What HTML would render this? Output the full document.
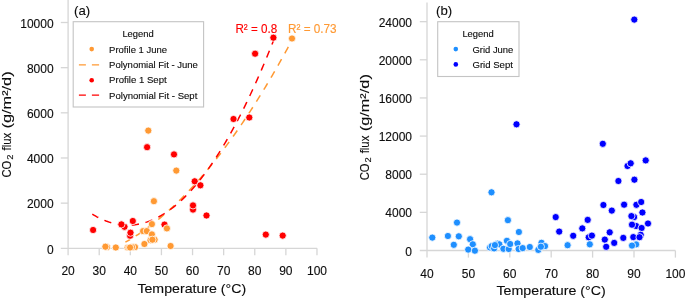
<!DOCTYPE html>
<html><head><meta charset="utf-8"><title>CO2 flux vs temperature</title>
<style>
html,body{margin:0;padding:0;background:#fff;}
body{width:685px;height:299px;overflow:hidden;}
svg{display:block;will-change:transform;}
svg text{font-family:"Liberation Sans",sans-serif;}
</style></head><body>
<svg width="685" height="299" viewBox="0 0 685 299">
<rect width="685" height="299" fill="#fff"/>
<g stroke="#d6d6d6" stroke-width="1.3" fill="none">
<path d="M68.1 0V255.2"/>
<path d="M60.8 248.3H316.98"/>
<path d="M60.8 203.14H68.1"/>
<path d="M60.8 157.98H68.1"/>
<path d="M60.8 112.82H68.1"/>
<path d="M60.8 67.66H68.1"/>
<path d="M60.8 22.50H68.1"/>
<path d="M99.21 248.3V255.2"/>
<path d="M130.32 248.3V255.2"/>
<path d="M161.43 248.3V255.2"/>
<path d="M192.54 248.3V255.2"/>
<path d="M223.65 248.3V255.2"/>
<path d="M254.76 248.3V255.2"/>
<path d="M285.87 248.3V255.2"/>
<path d="M316.98 248.3V255.2"/>
</g>
<text x="53.6" y="253.5" font-size="12" fill="#0d0d0d" stroke="#0d0d0d" stroke-width="0.12" text-anchor="end">0</text>
<text x="53.6" y="208.34" font-size="12" fill="#0d0d0d" stroke="#0d0d0d" stroke-width="0.12" text-anchor="end">2000</text>
<text x="53.6" y="163.18" font-size="12" fill="#0d0d0d" stroke="#0d0d0d" stroke-width="0.12" text-anchor="end">4000</text>
<text x="53.6" y="118.02" font-size="12" fill="#0d0d0d" stroke="#0d0d0d" stroke-width="0.12" text-anchor="end">6000</text>
<text x="53.6" y="72.86" font-size="12" fill="#0d0d0d" stroke="#0d0d0d" stroke-width="0.12" text-anchor="end">8000</text>
<text x="53.6" y="27.7" font-size="12" fill="#0d0d0d" stroke="#0d0d0d" stroke-width="0.12" text-anchor="end">10000</text>
<text x="68.1" y="275.0" font-size="12" fill="#0d0d0d" stroke="#0d0d0d" stroke-width="0.12" text-anchor="middle">20</text>
<text x="99.21" y="275.0" font-size="12" fill="#0d0d0d" stroke="#0d0d0d" stroke-width="0.12" text-anchor="middle">30</text>
<text x="130.32" y="275.0" font-size="12" fill="#0d0d0d" stroke="#0d0d0d" stroke-width="0.12" text-anchor="middle">40</text>
<text x="161.43" y="275.0" font-size="12" fill="#0d0d0d" stroke="#0d0d0d" stroke-width="0.12" text-anchor="middle">50</text>
<text x="192.54" y="275.0" font-size="12" fill="#0d0d0d" stroke="#0d0d0d" stroke-width="0.12" text-anchor="middle">60</text>
<text x="223.65" y="275.0" font-size="12" fill="#0d0d0d" stroke="#0d0d0d" stroke-width="0.12" text-anchor="middle">70</text>
<text x="254.76" y="275.0" font-size="12" fill="#0d0d0d" stroke="#0d0d0d" stroke-width="0.12" text-anchor="middle">80</text>
<text x="285.87" y="275.0" font-size="12" fill="#0d0d0d" stroke="#0d0d0d" stroke-width="0.12" text-anchor="middle">90</text>
<text x="316.98" y="275.0" font-size="12" fill="#0d0d0d" stroke="#0d0d0d" stroke-width="0.12" text-anchor="middle">100</text>
<text x="137.4" y="293.4" font-size="13" fill="#0d0d0d" stroke="#0d0d0d" stroke-width="0.12" text-anchor="start" textLength="108.8" lengthAdjust="spacingAndGlyphs">Temperature (°C)</text>
<g transform="translate(11.4 176.9) rotate(-90)" font-size="13" fill="#0d0d0d" stroke="#0d0d0d" stroke-width="0.12">
<text x="-0.6" y="0" textLength="16.8" lengthAdjust="spacingAndGlyphs">CO</text>
<text x="17.1" y="1.9" font-size="8.2" textLength="5.2" lengthAdjust="spacingAndGlyphs">2</text>
<text x="26.4" y="0" textLength="17.6" lengthAdjust="spacingAndGlyphs">flux</text>
<text x="48.5" y="0" textLength="57.0" lengthAdjust="spacingAndGlyphs">(g/m²/d)</text>
</g>
<text x="74.1" y="14.7" font-size="13.2" fill="#0d0d0d" stroke="#0d0d0d" stroke-width="0.12" text-anchor="start">(a)</text>
<path d="M125.40 242.15 L126.80 241.36 L128.19 240.56 L129.59 239.74 L130.99 238.91 L132.38 238.06 L133.78 237.19 L135.18 236.31 L136.57 235.42 L137.97 234.51 L139.37 233.58 L140.76 232.64 L142.16 231.68 L143.56 230.71 L144.95 229.72 L146.35 228.72 L147.75 227.70 L149.14 226.67 L150.54 225.62 L151.94 224.56 L153.33 223.48 L154.73 222.38 L156.13 221.27 L157.52 220.15 L158.92 219.01 L160.32 217.85 L161.71 216.68 L163.11 215.50 L164.51 214.30 L165.90 213.08 L167.30 211.85 L168.70 210.60 L170.09 209.34 L171.49 208.06 L172.89 206.76 L174.28 205.46 L175.68 204.13 L177.08 202.79 L178.47 201.44 L179.87 200.07 L181.27 198.68 L182.66 197.28 L184.06 195.87 L185.46 194.44 L186.85 192.99 L188.25 191.53 L189.65 190.05 L191.04 188.56 L192.44 187.05 L193.84 185.53 L195.23 183.99 L196.63 182.44 L198.03 180.87 L199.42 179.28 L200.82 177.68 L202.22 176.07 L203.61 174.44 L205.01 172.79 L206.41 171.13 L207.80 169.46 L209.20 167.76 L210.59 166.06 L211.99 164.34 L213.39 162.60 L214.78 160.85 L216.18 159.08 L217.58 157.30 L218.97 155.50 L220.37 153.68 L221.77 151.85 L223.16 150.01 L224.56 148.15 L225.96 146.27 L227.35 144.38 L228.75 142.48 L230.15 140.56 L231.54 138.62 L232.94 136.67 L234.34 134.70 L235.73 132.72 L237.13 130.72 L238.53 128.71 L239.92 126.68 L241.32 124.64 L242.72 122.58 L244.11 120.51 L245.51 118.42 L246.91 116.31 L248.30 114.19 L249.70 112.06 L251.10 109.91 L252.49 107.74 L253.89 105.56 L255.29 103.36 L256.68 101.15 L258.08 98.92 L259.48 96.68 L260.87 94.42 L262.27 92.15 L263.67 89.86 L265.06 87.56 L266.46 85.24 L267.86 82.91 L269.25 80.56 L270.65 78.19 L272.05 75.81 L273.44 73.42 L274.84 71.01 L276.24 68.58 L277.63 66.14 L279.03 63.68 L280.43 61.21 L281.82 58.72 L283.22 56.22 L284.62 53.70 L286.01 51.17 L287.41 48.62 L288.81 46.06 L290.20 43.48 L291.60 40.88" fill="none" stroke="#ff9933" stroke-width="1.5" stroke-dasharray="7.3 6.7" stroke-dashoffset="1.98"/>
<path d="M92.30 214.13 L93.83 215.06 L95.35 215.94 L96.88 216.79 L98.41 217.59 L99.93 218.36 L101.46 219.08 L102.99 219.76 L104.52 220.40 L106.04 221.01 L107.57 221.57 L109.10 222.09 L110.62 222.57 L112.15 223.01 L113.68 223.41 L115.20 223.76 L116.73 224.08 L118.26 224.36 L119.78 224.60 L121.31 224.79 L122.84 224.95 L124.36 225.06 L125.89 225.13 L127.42 225.17 L128.95 225.16 L130.47 225.11 L132.00 225.02 L133.53 224.90 L135.05 224.73 L136.58 224.52 L138.11 224.26 L139.63 223.97 L141.16 223.64 L142.69 223.27 L144.21 222.86 L145.74 222.40 L147.27 221.91 L148.79 221.37 L150.32 220.80 L151.85 220.18 L153.38 219.52 L154.90 218.83 L156.43 218.09 L157.96 217.31 L159.48 216.49 L161.01 215.63 L162.54 214.73 L164.06 213.79 L165.59 212.81 L167.12 211.79 L168.64 210.72 L170.17 209.62 L171.70 208.48 L173.23 207.29 L174.75 206.07 L176.28 204.80 L177.81 203.49 L179.33 202.15 L180.86 200.76 L182.39 199.33 L183.91 197.86 L185.44 196.35 L186.97 194.80 L188.49 193.21 L190.02 191.58 L191.55 189.91 L193.07 188.20 L194.60 186.44 L196.13 184.65 L197.66 182.82 L199.18 180.94 L200.71 179.03 L202.24 177.07 L203.76 175.07 L205.29 173.04 L206.82 170.96 L208.34 168.84 L209.87 166.68 L211.40 164.48 L212.92 162.24 L214.45 159.96 L215.98 157.64 L217.51 155.28 L219.03 152.87 L220.56 150.43 L222.09 147.95 L223.61 145.42 L225.14 142.86 L226.67 140.25 L228.19 137.61 L229.72 134.92 L231.25 132.19 L232.77 129.42 L234.30 126.62 L235.83 123.77 L237.35 120.88 L238.88 117.95 L240.41 114.97 L241.94 111.96 L243.46 108.91 L244.99 105.82 L246.52 102.68 L248.04 99.51 L249.57 96.30 L251.10 93.04 L252.62 89.75 L254.15 86.41 L255.68 83.03 L257.20 79.61 L258.73 76.16 L260.26 72.66 L261.78 69.12 L263.31 65.54 L264.84 61.92 L266.37 58.26 L267.89 54.55 L269.42 50.81 L270.95 47.03 L272.47 43.21 L274.00 39.34" fill="none" stroke="#ff0000" stroke-width="1.5" stroke-dasharray="7.3 6.7" stroke-dashoffset="0.40"/>
<circle cx="93.1" cy="230" r="3.6" fill="#ff0000" stroke="#fff" stroke-width="0.8"/>
<circle cx="124.5" cy="226.8" r="3.6" fill="#ff0000" stroke="#fff" stroke-width="0.8"/>
<circle cx="121.4" cy="224.4" r="3.6" fill="#ff0000" stroke="#fff" stroke-width="0.8"/>
<circle cx="132.8" cy="221" r="3.6" fill="#ff0000" stroke="#fff" stroke-width="0.8"/>
<circle cx="130.1" cy="235.7" r="3.6" fill="#ff0000" stroke="#fff" stroke-width="0.8"/>
<circle cx="130.5" cy="232.7" r="3.6" fill="#ff0000" stroke="#fff" stroke-width="0.8"/>
<circle cx="164.5" cy="224.6" r="3.6" fill="#ff0000" stroke="#fff" stroke-width="0.8"/>
<circle cx="193" cy="209.6" r="3.6" fill="#ff0000" stroke="#fff" stroke-width="0.8"/>
<circle cx="193" cy="205.4" r="3.6" fill="#ff0000" stroke="#fff" stroke-width="0.8"/>
<circle cx="206.5" cy="215.5" r="3.6" fill="#ff0000" stroke="#fff" stroke-width="0.8"/>
<circle cx="194.7" cy="181.3" r="3.6" fill="#ff0000" stroke="#fff" stroke-width="0.8"/>
<circle cx="200.4" cy="185.3" r="3.6" fill="#ff0000" stroke="#fff" stroke-width="0.8"/>
<circle cx="147.1" cy="147.2" r="3.6" fill="#ff0000" stroke="#fff" stroke-width="0.8"/>
<circle cx="174" cy="154.4" r="3.6" fill="#ff0000" stroke="#fff" stroke-width="0.8"/>
<circle cx="233.5" cy="119.0" r="3.6" fill="#ff0000" stroke="#fff" stroke-width="0.8"/>
<circle cx="249.3" cy="117.5" r="3.6" fill="#ff0000" stroke="#fff" stroke-width="0.8"/>
<circle cx="255.1" cy="53.7" r="3.6" fill="#ff0000" stroke="#fff" stroke-width="0.8"/>
<circle cx="273.4" cy="37.7" r="3.6" fill="#ff0000" stroke="#fff" stroke-width="0.8"/>
<circle cx="265.8" cy="234.6" r="3.6" fill="#ff0000" stroke="#fff" stroke-width="0.8"/>
<circle cx="282.7" cy="235.6" r="3.6" fill="#ff0000" stroke="#fff" stroke-width="0.8"/>
<circle cx="107.0" cy="247.1" r="3.6" fill="#ff9933" stroke="#fff" stroke-width="0.8"/>
<circle cx="105.4" cy="246.7" r="3.6" fill="#ff9933" stroke="#fff" stroke-width="0.8"/>
<circle cx="115.8" cy="247.5" r="3.6" fill="#ff9933" stroke="#fff" stroke-width="0.8"/>
<circle cx="127.6" cy="247.5" r="3.6" fill="#ff9933" stroke="#fff" stroke-width="0.8"/>
<circle cx="129.0" cy="247.5" r="3.6" fill="#ff9933" stroke="#fff" stroke-width="0.8"/>
<circle cx="135.0" cy="247.1" r="3.6" fill="#ff9933" stroke="#fff" stroke-width="0.8"/>
<circle cx="132.0" cy="247.1" r="3.6" fill="#ff9933" stroke="#fff" stroke-width="0.8"/>
<circle cx="130.1" cy="247.5" r="3.6" fill="#ff9933" stroke="#fff" stroke-width="0.8"/>
<circle cx="144.4" cy="244.0" r="3.6" fill="#ff9933" stroke="#fff" stroke-width="0.8"/>
<circle cx="143.1" cy="231.1" r="3.6" fill="#ff9933" stroke="#fff" stroke-width="0.8"/>
<circle cx="146.8" cy="231.1" r="3.6" fill="#ff9933" stroke="#fff" stroke-width="0.8"/>
<circle cx="151.9" cy="224.1" r="3.6" fill="#ff9933" stroke="#fff" stroke-width="0.8"/>
<circle cx="151.9" cy="234.4" r="3.6" fill="#ff9933" stroke="#fff" stroke-width="0.8"/>
<circle cx="150.5" cy="240.2" r="3.6" fill="#ff9933" stroke="#fff" stroke-width="0.8"/>
<circle cx="154.6" cy="239.7" r="3.6" fill="#ff9933" stroke="#fff" stroke-width="0.8"/>
<circle cx="152.4" cy="239.7" r="3.6" fill="#ff9933" stroke="#fff" stroke-width="0.8"/>
<circle cx="153.9" cy="201.2" r="3.6" fill="#ff9933" stroke="#fff" stroke-width="0.8"/>
<circle cx="166.9" cy="228.4" r="3.6" fill="#ff9933" stroke="#fff" stroke-width="0.8"/>
<circle cx="170.6" cy="246" r="3.6" fill="#ff9933" stroke="#fff" stroke-width="0.8"/>
<circle cx="148.3" cy="130.6" r="3.6" fill="#ff9933" stroke="#fff" stroke-width="0.8"/>
<circle cx="176.3" cy="170.6" r="3.6" fill="#ff9933" stroke="#fff" stroke-width="0.8"/>
<circle cx="292" cy="38.5" r="3.6" fill="#ff9933" stroke="#fff" stroke-width="0.8"/>
<text x="235.4" y="32.7" font-size="12.2" fill="#ff0000" stroke="#ff0000" stroke-width="0.12" text-anchor="start" textLength="41.8" lengthAdjust="spacingAndGlyphs">R² = 0.8</text>
<text x="288.0" y="32.7" font-size="12.2" fill="#ff9933" stroke="#ff9933" stroke-width="0.12" text-anchor="start" textLength="48.6" lengthAdjust="spacingAndGlyphs">R² = 0.73</text>
<rect x="73.2" y="21.7" width="130.4" height="85.3" fill="#fff" stroke="#c4c4c4" stroke-width="1.1"/>
<text x="122.4" y="36.8" font-size="9" fill="#0d0d0d" stroke="#0d0d0d" stroke-width="0.12" text-anchor="start" textLength="31.3" lengthAdjust="spacingAndGlyphs">Legend</text>
<text x="109.1" y="52.5" font-size="9" fill="#0d0d0d" stroke="#0d0d0d" stroke-width="0.12" text-anchor="start" textLength="58.0" lengthAdjust="spacingAndGlyphs">Profile 1 June</text>
<text x="109.1" y="67.95" font-size="9" fill="#0d0d0d" stroke="#0d0d0d" stroke-width="0.12" text-anchor="start" textLength="88.8" lengthAdjust="spacingAndGlyphs">Polynomial Fit - June</text>
<text x="109.1" y="83.4" font-size="9" fill="#0d0d0d" stroke="#0d0d0d" stroke-width="0.12" text-anchor="start" textLength="57.6" lengthAdjust="spacingAndGlyphs">Profile 1 Sept</text>
<text x="109.1" y="98.85" font-size="9" fill="#0d0d0d" stroke="#0d0d0d" stroke-width="0.12" text-anchor="start" textLength="88.2" lengthAdjust="spacingAndGlyphs">Polynomial Fit - Sept</text>
<circle cx="91.7" cy="49.1" r="2.3" fill="#ff9933"/>
<circle cx="91.7" cy="80.2" r="2.3" fill="#ff0000"/>
<path d="M78.9 64.9H85.9M91.9 64.9H99.1" stroke="#ff9933" stroke-width="1.4"/>
<path d="M78.9 95.1H85.9M91.9 95.1H99.1" stroke="#ff0000" stroke-width="1.4"/>
<g stroke="#d6d6d6" stroke-width="1.3" fill="none">
<path d="M427.0 2.6V257.6"/>
<path d="M419.8 250.5H675.4"/>
<path d="M419.8 212.36H427.0"/>
<path d="M419.8 174.22H427.0"/>
<path d="M419.8 136.08H427.0"/>
<path d="M419.8 97.94H427.0"/>
<path d="M419.8 59.80H427.0"/>
<path d="M419.8 21.66H427.0"/>
<path d="M468.40 250.5V257.6"/>
<path d="M509.80 250.5V257.6"/>
<path d="M551.20 250.5V257.6"/>
<path d="M592.60 250.5V257.6"/>
<path d="M634.00 250.5V257.6"/>
<path d="M675.40 250.5V257.6"/>
</g>
<text x="412.0" y="255.5" font-size="12" fill="#0d0d0d" stroke="#0d0d0d" stroke-width="0.12" text-anchor="end">0</text>
<text x="412.0" y="217.36" font-size="12" fill="#0d0d0d" stroke="#0d0d0d" stroke-width="0.12" text-anchor="end">4000</text>
<text x="412.0" y="179.22" font-size="12" fill="#0d0d0d" stroke="#0d0d0d" stroke-width="0.12" text-anchor="end">8000</text>
<text x="412.0" y="141.08" font-size="12" fill="#0d0d0d" stroke="#0d0d0d" stroke-width="0.12" text-anchor="end">12000</text>
<text x="412.0" y="102.94" font-size="12" fill="#0d0d0d" stroke="#0d0d0d" stroke-width="0.12" text-anchor="end">16000</text>
<text x="412.0" y="64.8" font-size="12" fill="#0d0d0d" stroke="#0d0d0d" stroke-width="0.12" text-anchor="end">20000</text>
<text x="412.0" y="26.66" font-size="12" fill="#0d0d0d" stroke="#0d0d0d" stroke-width="0.12" text-anchor="end">24000</text>
<text x="427.0" y="277.7" font-size="12" fill="#0d0d0d" stroke="#0d0d0d" stroke-width="0.12" text-anchor="middle">40</text>
<text x="468.4" y="277.7" font-size="12" fill="#0d0d0d" stroke="#0d0d0d" stroke-width="0.12" text-anchor="middle">50</text>
<text x="509.8" y="277.7" font-size="12" fill="#0d0d0d" stroke="#0d0d0d" stroke-width="0.12" text-anchor="middle">60</text>
<text x="551.2" y="277.7" font-size="12" fill="#0d0d0d" stroke="#0d0d0d" stroke-width="0.12" text-anchor="middle">70</text>
<text x="592.6" y="277.7" font-size="12" fill="#0d0d0d" stroke="#0d0d0d" stroke-width="0.12" text-anchor="middle">80</text>
<text x="634.0" y="277.7" font-size="12" fill="#0d0d0d" stroke="#0d0d0d" stroke-width="0.12" text-anchor="middle">90</text>
<text x="675.4" y="277.7" font-size="12" fill="#0d0d0d" stroke="#0d0d0d" stroke-width="0.12" text-anchor="middle">100</text>
<text x="496.4" y="295.4" font-size="13" fill="#0d0d0d" stroke="#0d0d0d" stroke-width="0.12" text-anchor="start" textLength="109.4" lengthAdjust="spacingAndGlyphs">Temperature (°C)</text>
<g transform="translate(369.1 179.7) rotate(-90)" font-size="13" fill="#0d0d0d" stroke="#0d0d0d" stroke-width="0.12">
<text x="-0.6" y="0" textLength="16.8" lengthAdjust="spacingAndGlyphs">CO</text>
<text x="17.1" y="1.9" font-size="8.2" textLength="5.2" lengthAdjust="spacingAndGlyphs">2</text>
<text x="26.4" y="0" textLength="17.6" lengthAdjust="spacingAndGlyphs">flux</text>
<text x="48.5" y="0" textLength="57.0" lengthAdjust="spacingAndGlyphs">(g/m²/d)</text>
</g>
<text x="436.1" y="14.8" font-size="13.2" fill="#0d0d0d" stroke="#0d0d0d" stroke-width="0.12" text-anchor="start">(b)</text>
<circle cx="555.7" cy="217.1" r="3.6" fill="#0000ff" stroke="#fff" stroke-width="0.8"/>
<circle cx="559.2" cy="231.6" r="3.6" fill="#0000ff" stroke="#fff" stroke-width="0.8"/>
<circle cx="573.2" cy="235.8" r="3.6" fill="#0000ff" stroke="#fff" stroke-width="0.8"/>
<circle cx="582.3" cy="228.4" r="3.6" fill="#0000ff" stroke="#fff" stroke-width="0.8"/>
<circle cx="587.7" cy="219.9" r="3.6" fill="#0000ff" stroke="#fff" stroke-width="0.8"/>
<circle cx="588.7" cy="237.3" r="3.6" fill="#0000ff" stroke="#fff" stroke-width="0.8"/>
<circle cx="591.9" cy="235.6" r="3.6" fill="#0000ff" stroke="#fff" stroke-width="0.8"/>
<circle cx="603.4" cy="205" r="3.6" fill="#0000ff" stroke="#fff" stroke-width="0.8"/>
<circle cx="611.8" cy="210.6" r="3.6" fill="#0000ff" stroke="#fff" stroke-width="0.8"/>
<circle cx="609.7" cy="232.3" r="3.6" fill="#0000ff" stroke="#fff" stroke-width="0.8"/>
<circle cx="604.8" cy="239.6" r="3.6" fill="#0000ff" stroke="#fff" stroke-width="0.8"/>
<circle cx="606.2" cy="246.8" r="3.6" fill="#0000ff" stroke="#fff" stroke-width="0.8"/>
<circle cx="614.2" cy="242.9" r="3.6" fill="#0000ff" stroke="#fff" stroke-width="0.8"/>
<circle cx="624.1" cy="204.7" r="3.6" fill="#0000ff" stroke="#fff" stroke-width="0.8"/>
<circle cx="623.3" cy="237.9" r="3.6" fill="#0000ff" stroke="#fff" stroke-width="0.8"/>
<circle cx="636.4" cy="204.8" r="3.6" fill="#0000ff" stroke="#fff" stroke-width="0.8"/>
<circle cx="641.2" cy="202" r="3.6" fill="#0000ff" stroke="#fff" stroke-width="0.8"/>
<circle cx="642.4" cy="212.5" r="3.6" fill="#0000ff" stroke="#fff" stroke-width="0.8"/>
<circle cx="634.1" cy="217.1" r="3.6" fill="#0000ff" stroke="#fff" stroke-width="0.8"/>
<circle cx="631.4" cy="216.1" r="3.6" fill="#0000ff" stroke="#fff" stroke-width="0.8"/>
<circle cx="636.1" cy="226.0" r="3.6" fill="#0000ff" stroke="#fff" stroke-width="0.8"/>
<circle cx="632" cy="224.7" r="3.6" fill="#0000ff" stroke="#fff" stroke-width="0.8"/>
<circle cx="641.6" cy="228.0" r="3.6" fill="#0000ff" stroke="#fff" stroke-width="0.8"/>
<circle cx="648" cy="223.5" r="3.6" fill="#0000ff" stroke="#fff" stroke-width="0.8"/>
<circle cx="640.7" cy="234.8" r="3.6" fill="#0000ff" stroke="#fff" stroke-width="0.8"/>
<circle cx="633.3" cy="237.1" r="3.6" fill="#0000ff" stroke="#fff" stroke-width="0.8"/>
<circle cx="639.5" cy="237.2" r="3.6" fill="#0000ff" stroke="#fff" stroke-width="0.8"/>
<circle cx="602.8" cy="143.8" r="3.6" fill="#0000ff" stroke="#fff" stroke-width="0.8"/>
<circle cx="645.7" cy="160.4" r="3.6" fill="#0000ff" stroke="#fff" stroke-width="0.8"/>
<circle cx="627.5" cy="166" r="3.6" fill="#0000ff" stroke="#fff" stroke-width="0.8"/>
<circle cx="630.7" cy="163.3" r="3.6" fill="#0000ff" stroke="#fff" stroke-width="0.8"/>
<circle cx="618.4" cy="181" r="3.6" fill="#0000ff" stroke="#fff" stroke-width="0.8"/>
<circle cx="634.4" cy="179.7" r="3.6" fill="#0000ff" stroke="#fff" stroke-width="0.8"/>
<circle cx="634.3" cy="19.6" r="3.6" fill="#0000ff" stroke="#fff" stroke-width="0.8"/>
<circle cx="516.5" cy="124.3" r="3.6" fill="#0000ff" stroke="#fff" stroke-width="0.8"/>
<circle cx="432.3" cy="237.6" r="3.6" fill="#1e8fff" stroke="#fff" stroke-width="0.8"/>
<circle cx="447.9" cy="236" r="3.6" fill="#1e8fff" stroke="#fff" stroke-width="0.8"/>
<circle cx="457" cy="222.6" r="3.6" fill="#1e8fff" stroke="#fff" stroke-width="0.8"/>
<circle cx="458.8" cy="236.3" r="3.6" fill="#1e8fff" stroke="#fff" stroke-width="0.8"/>
<circle cx="453.8" cy="244.8" r="3.6" fill="#1e8fff" stroke="#fff" stroke-width="0.8"/>
<circle cx="470.1" cy="239.2" r="3.6" fill="#1e8fff" stroke="#fff" stroke-width="0.8"/>
<circle cx="472.8" cy="244.3" r="3.6" fill="#1e8fff" stroke="#fff" stroke-width="0.8"/>
<circle cx="468.2" cy="249.6" r="3.6" fill="#1e8fff" stroke="#fff" stroke-width="0.8"/>
<circle cx="474.9" cy="250.7" r="3.6" fill="#1e8fff" stroke="#fff" stroke-width="0.8"/>
<circle cx="491.5" cy="192.3" r="3.6" fill="#1e8fff" stroke="#fff" stroke-width="0.8"/>
<circle cx="507.9" cy="220.2" r="3.6" fill="#1e8fff" stroke="#fff" stroke-width="0.8"/>
<circle cx="490" cy="247.5" r="3.6" fill="#1e8fff" stroke="#fff" stroke-width="0.8"/>
<circle cx="491.7" cy="246.1" r="3.6" fill="#1e8fff" stroke="#fff" stroke-width="0.8"/>
<circle cx="494.1" cy="248.4" r="3.6" fill="#1e8fff" stroke="#fff" stroke-width="0.8"/>
<circle cx="497.6" cy="243.7" r="3.6" fill="#1e8fff" stroke="#fff" stroke-width="0.8"/>
<circle cx="499.3" cy="244.3" r="3.6" fill="#1e8fff" stroke="#fff" stroke-width="0.8"/>
<circle cx="494.9" cy="245.1" r="3.6" fill="#1e8fff" stroke="#fff" stroke-width="0.8"/>
<circle cx="503.4" cy="248.8" r="3.6" fill="#1e8fff" stroke="#fff" stroke-width="0.8"/>
<circle cx="506.9" cy="240.8" r="3.6" fill="#1e8fff" stroke="#fff" stroke-width="0.8"/>
<circle cx="508.7" cy="249" r="3.6" fill="#1e8fff" stroke="#fff" stroke-width="0.8"/>
<circle cx="510.2" cy="244" r="3.6" fill="#1e8fff" stroke="#fff" stroke-width="0.8"/>
<circle cx="517.5" cy="243.4" r="3.6" fill="#1e8fff" stroke="#fff" stroke-width="0.8"/>
<circle cx="518.6" cy="249" r="3.6" fill="#1e8fff" stroke="#fff" stroke-width="0.8"/>
<circle cx="522.7" cy="248.1" r="3.6" fill="#1e8fff" stroke="#fff" stroke-width="0.8"/>
<circle cx="529.8" cy="247" r="3.6" fill="#1e8fff" stroke="#fff" stroke-width="0.8"/>
<circle cx="518.9" cy="232" r="3.6" fill="#1e8fff" stroke="#fff" stroke-width="0.8"/>
<circle cx="541.5" cy="242.8" r="3.6" fill="#1e8fff" stroke="#fff" stroke-width="0.8"/>
<circle cx="545" cy="246.1" r="3.6" fill="#1e8fff" stroke="#fff" stroke-width="0.8"/>
<circle cx="538.3" cy="249.9" r="3.6" fill="#1e8fff" stroke="#fff" stroke-width="0.8"/>
<circle cx="540.9" cy="246.7" r="3.6" fill="#1e8fff" stroke="#fff" stroke-width="0.8"/>
<circle cx="567.6" cy="245.2" r="3.6" fill="#1e8fff" stroke="#fff" stroke-width="0.8"/>
<circle cx="589.8" cy="244.3" r="3.6" fill="#1e8fff" stroke="#fff" stroke-width="0.8"/>
<circle cx="636.1" cy="244.4" r="3.6" fill="#1e8fff" stroke="#fff" stroke-width="0.8"/>
<circle cx="632" cy="245.6" r="3.6" fill="#1e8fff" stroke="#fff" stroke-width="0.8"/>
<rect x="437.7" y="21.7" width="81.3" height="54.8" fill="#fff" stroke="#c4c4c4" stroke-width="1.1"/>
<text x="462.4" y="36.8" font-size="9" fill="#0d0d0d" stroke="#0d0d0d" stroke-width="0.12" text-anchor="start" textLength="31.3" lengthAdjust="spacingAndGlyphs">Legend</text>
<text x="472.5" y="52.6" font-size="9" fill="#0d0d0d" stroke="#0d0d0d" stroke-width="0.12" text-anchor="start" textLength="40.8" lengthAdjust="spacingAndGlyphs">Grid June</text>
<text x="472.5" y="67.9" font-size="9" fill="#0d0d0d" stroke="#0d0d0d" stroke-width="0.12" text-anchor="start" textLength="40.4" lengthAdjust="spacingAndGlyphs">Grid Sept</text>
<circle cx="455.8" cy="49.1" r="2.3" fill="#1e8fff"/>
<circle cx="455.8" cy="64.4" r="2.3" fill="#0000ff"/>
</svg>
</body></html>
